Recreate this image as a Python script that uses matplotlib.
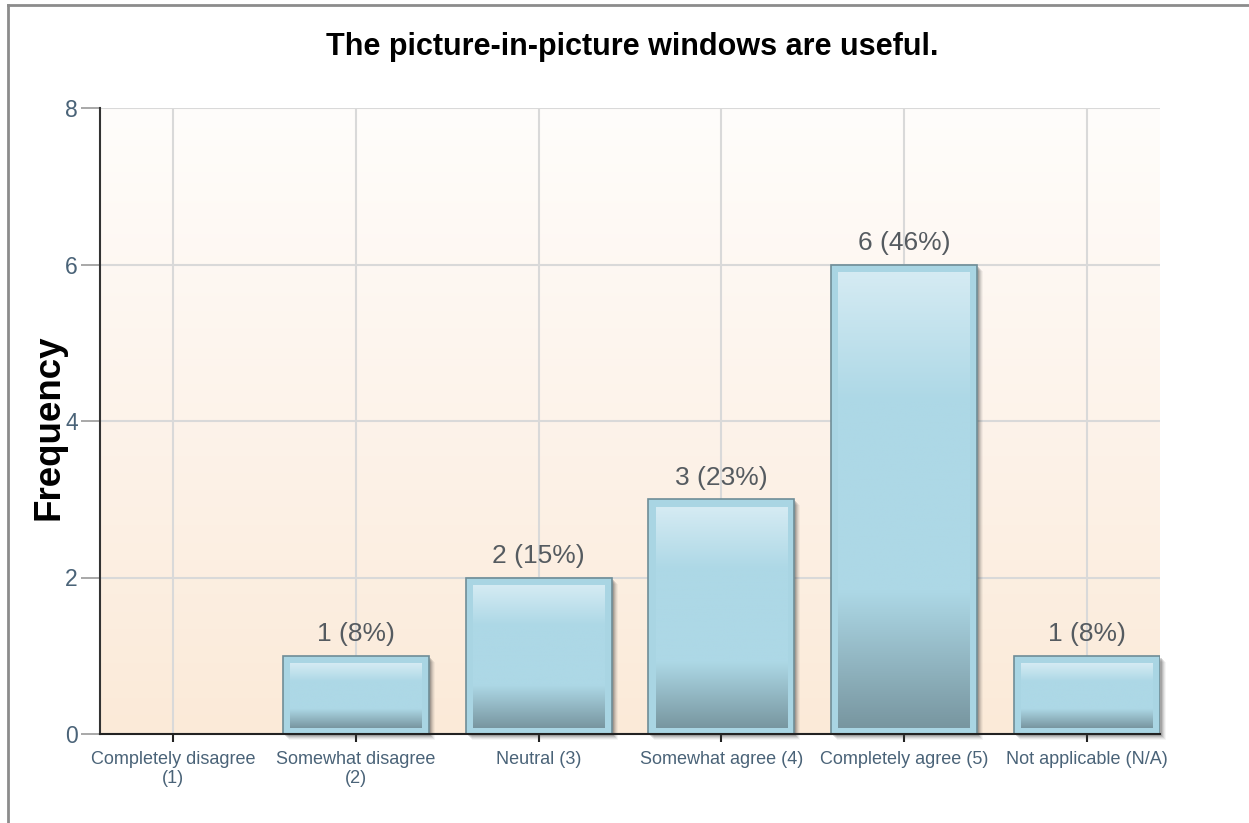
import numpy as np
import matplotlib
matplotlib.use("Agg")
import matplotlib.pyplot as plt
from matplotlib.colors import LinearSegmentedColormap
from matplotlib.patches import Rectangle
from matplotlib.lines import Line2D
import matplotlib.transforms as mtransforms

plt.rcParams['font.family'] = ['Liberation Sans', 'DejaVu Sans']

categories = ["Completely disagree\n(1)", "Somewhat disagree\n(2)", "Neutral (3)",
              "Somewhat agree (4)", "Completely agree (5)", "Not applicable (N/A)"]
counts = [0, 1, 2, 3, 6, 1]
percents = [0, 8, 15, 23, 46, 8]
y_ticks = [0, 2, 4, 6, 8]

W, H, DPI = 1249, 823, 100
fig = plt.figure(figsize=(W / DPI, H / DPI), dpi=DPI)
fig.patch.set_facecolor("white")
ax = fig.add_axes([100 / W, 1 - 734 / H, (1160 - 100) / W, (734 - 108) / H])

x = np.arange(len(categories))
bar_w = 0.8
ax.set_xlim(-0.4, len(categories) - 0.6)
ax.set_ylim(0, 8)

# warm vertical gradient behind the plot
bg = LinearSegmentedColormap.from_list("bg", ["#fbead8", "#fdf3ea", "#fffdfb"])
ax.imshow(np.linspace(0, 1, 256).reshape(-1, 1), cmap=bg, origin="lower",
          extent=[-0.4, len(categories) - 0.6, 0, 8], aspect="auto", zorder=0)

ax.set_yticks(y_ticks)
ax.set_xticks(x)
ax.set_xticklabels(categories, fontsize=13, color="#4a6378", linespacing=1.15)
ax.tick_params(axis="x", length=6, width=1.5, color="#222222", pad=6)
ax.tick_params(axis="y", length=14, width=1.2, color="#999999", labelsize=16.5,
               labelcolor="#4a6378", pad=2)
ax.grid(True, color="#d9d9d9", linewidth=1.5, zorder=1)
ax.set_axisbelow(True)
for s in ["top", "right"]:
    ax.spines[s].set_visible(False)
ax.spines["left"].set_color("#333333")
ax.spines["left"].set_linewidth(1.5)
ax.spines["bottom"].set_color("#222222")
ax.spines["bottom"].set_linewidth(1.5)
ax.spines["bottom"].set_zorder(6)

inner = LinearSegmentedColormap.from_list(
    "inner", [(0.0, "#7896a0"), (0.3, "#add8e6"), (0.72, "#add8e6"), (1.0, "#d5ebf3")])

px_x = len(categories) / (1160 - 100)  # data units per pixel (x)
px_y = 8 / (734 - 108)

for xi, c, p in zip(x, counts, percents):
    if c <= 0:
        continue
    x0 = xi - bar_w / 2
    # soft shadow to the lower right
    for k, a in zip([6, 5, 4, 3, 2], [0.05, 0.08, 0.11, 0.15, 0.2]):
        off = mtransforms.ScaledTranslation(k / DPI, -k / DPI, fig.dpi_scale_trans)
        ax.add_patch(Rectangle((x0, 0), bar_w, c, facecolor="#404040", edgecolor="none",
                               alpha=a, transform=ax.transData + off, zorder=2,
                               clip_on=False))
    ax.add_patch(Rectangle((x0, 0), bar_w, c, facecolor="#a9d5e3", edgecolor="#6f8d97",
                           linewidth=1.2, zorder=3))
    ix0 = x0 + 7 * px_x
    ix1 = x0 + bar_w - 7 * px_x
    iy0 = 6 * px_y
    iy1 = c - 8 * px_y
    ax.imshow(np.linspace(0, 1, 256).reshape(-1, 1), cmap=inner, origin="lower",
              extent=[ix0, ix1, iy0, iy1], aspect="auto", zorder=4)
    ax.text(xi, c + 0.12, f"{c} ({p}%)", ha="center", va="bottom", fontsize=19,
            color="#555b60", zorder=5)

ax.set_xlim(-0.4, len(categories) - 0.6)
ax.set_ylim(0, 8)

fig.text(0.5 * (323 + 942) / W, 1 - 47 / H, "The picture-in-picture windows are useful.",
         ha="center", va="center", fontsize=22, fontweight="bold", color="black")
fig.text(49 / W, 1 - 427 / H, "Frequency", rotation=90, ha="center", va="center",
         fontsize=26.5, fontweight="bold", color="black")

# outer frame lines
fig.add_artist(Line2D([8 / W, 1.0], [1 - 5 / H, 1 - 5 / H], transform=fig.transFigure,
                      color="#8c8c8c", linewidth=2))
fig.add_artist(Line2D([8 / W, 8 / W], [0, 1 - 5 / H], transform=fig.transFigure,
                      color="#8c8c8c", linewidth=2))

fig.savefig("out.png", dpi=DPI)
